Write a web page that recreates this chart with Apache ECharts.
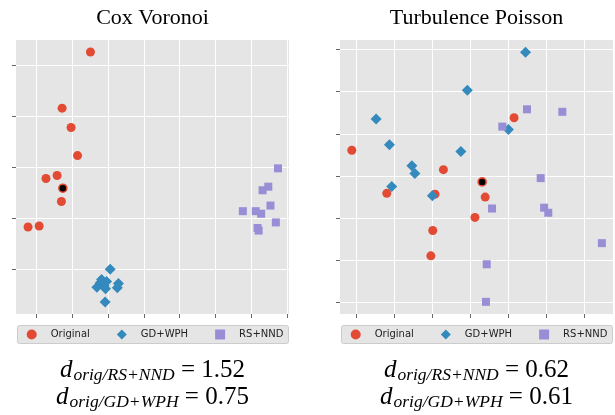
<!DOCTYPE html>
<html>
<head>
<meta charset="utf-8">
<script src="https://cdn.jsdelivr.net/npm/echarts@6/dist/echarts.min.js"></script>
<style>
  html, body { margin: 0; padding: 0; background: #fff; }
  #chart { width: 615px; height: 415px; }
</style>
</head>
<body>
<div id="chart"></div>
<script>
// Cox Voronoi panel
const coxOriginal = [[1.51, 4.26], [0.72, 3.16], [0.97, 2.78], [1.15, 2.23], [0.27, 1.78], [0.58, 1.84], [0.70, 1.33], [-0.23, 0.83], [0.08, 0.85]];
const coxOriginalRef = [[0.74, 1.59]];
const coxGdWph = [[2.06, 0.00], [1.82, -0.20], [1.96, -0.24], [1.89, -0.32], [1.69, -0.35], [1.93, -0.38], [2.29, -0.28], [2.26, -0.36], [1.92, -0.64], [1.78, -0.27]];
const coxRsNnd = [[6.74, 1.98], [6.47, 1.62], [6.31, 1.55], [6.53, 1.25], [5.76, 1.14], [6.12, 1.14], [6.27, 1.09], [6.68, 0.92], [6.17, 0.81], [6.20, 0.76]];
const coxXRange = [-0.566, 7.047];
const coxYRange = [-0.876, 4.496];
const coxXTicks = [0, 1, 2, 3, 4, 5, 6, 7];
const coxYTicks = [0, 1, 2, 3, 4];

// Turbulence Poisson panel
const turbOriginal = [[-0.11, 3.61], [2.30, 3.15], [4.16, 4.38], [0.81, 2.59], [2.08, 2.57], [3.13, 2.02], [2.02, 1.71], [1.97, 1.11], [3.40, 2.50]];
const turbOriginalRef = [[3.32, 2.86]];
const turbGdWph = [[0.53, 4.35], [0.88, 3.74], [1.47, 3.24], [1.55, 3.06], [2.76, 3.58], [2.93, 5.03], [4.46, 5.93], [4.01, 4.10], [0.94, 2.75], [2.01, 2.53]];
const turbRsNnd = [[4.50, 4.58], [5.43, 4.52], [3.85, 4.17], [4.86, 2.95], [3.58, 2.23], [4.95, 2.25], [5.06, 2.13], [6.47, 1.41], [3.44, 0.91], [3.42, 0.02]];
const turbXRange = [-0.421, 6.763];
const turbYRange = [-0.268, 6.221];
const turbXTicks = [0, 1, 2, 3, 4, 5, 6];
const turbYTicks = [0, 1, 2, 3, 4, 5, 6];

const titles = ['Cox Voronoi', 'Turbulence Poisson'];
const legendNames = ['Original', 'GD+WPH', 'RS+NND'];
const distances = [
  [['RS+NND', '1.52'], ['GD+WPH', '0.75']],
  [['RS+NND', '0.62'], ['GD+WPH', '0.61']]
];

const RED = '#E24A33', BLUE = '#348ABD', PURPLE = '#988ED5';
const serif = '"Liberation Serif", "Times New Roman", serif';

function makeAxis(gridIndex, range, ticks) {
  return {
    type: 'value',
    gridIndex: gridIndex,
    min: range[0],
    max: range[1],
    axisLine: { show: false, onZero: false },
    axisLabel: { show: false },
    axisTick: { show: true, length: 4, customValues: ticks, lineStyle: { color: '#666', width: 1 } },
    splitLine: { show: true, lineStyle: { color: '#fff', width: 1 } }
  };
}

function panelSeries(idx, orig, ref, gd, rs) {
  return [
    { name: 'Original', type: 'scatter', xAxisIndex: idx, yAxisIndex: idx, data: orig, symbol: 'circle', symbolSize: 9, itemStyle: { color: RED, opacity: 1 } },
    { name: 'GD+WPH', type: 'scatter', xAxisIndex: idx, yAxisIndex: idx, data: gd, symbol: 'diamond', symbolSize: 11, itemStyle: { color: BLUE, opacity: 1 } },
    { name: 'RS+NND', type: 'scatter', xAxisIndex: idx, yAxisIndex: idx, data: rs, symbol: 'rect', symbolSize: 8, itemStyle: { color: PURPLE, opacity: 1 } },
    { name: 'Original', type: 'scatter', xAxisIndex: idx, yAxisIndex: idx, data: ref, symbol: 'circle', symbolSize: 8, z: 5,
      itemStyle: { color: '#000', borderColor: RED, borderWidth: 1.6, opacity: 1 } }
  ];
}

const panelLeft = [16, 340];
const panelCenter = [152.5, 476.5];

function legendFor(i) {
  return {
    left: panelLeft[i] + 10.7,
    top: 329.5,
    padding: 0,
    itemWidth: 10,
    itemHeight: 10,
    itemGap: 27,
    selectedMode: false,
    data: legendNames.map((n, k) => ({ name: n, icon: ['circle', 'diamond', 'rect'][k] })),
    textStyle: { fontFamily: '"DejaVu Sans", sans-serif', fontSize: 10, color: '#222', padding: [0, 0, 0, 9] }
  };
}

function mathLine(i, j, top) {
  const d = distances[i][j];
  return {
    type: 'text',
    x: panelCenter[i],
    y: top,
    style: {
      text: '{d|d}{s|orig/' + d[0] + '}{n| = ' + d[1] + '}',
      align: 'center',
      verticalAlign: 'top',
      fill: '#000',
      rich: {
        d: { fontFamily: serif, fontStyle: 'italic', fontSize: 25, lineHeight: 26, verticalAlign: 'top' },
        s: { fontFamily: serif, fontStyle: 'italic', fontSize: 17.5, lineHeight: 18, padding: [12, 0, 0, 1], verticalAlign: 'bottom' },
        n: { fontFamily: serif, fontSize: 25, lineHeight: 26, verticalAlign: 'top' }
      }
    }
  };
}

const chart = echarts.init(document.getElementById('chart'));
chart.setOption({
  animation: false,
  backgroundColor: '#fff',
  title: titles.map((t, i) => ({
    text: t,
    left: panelCenter[i],
    textAlign: 'center',
    top: 7,
    padding: 0,
    textStyle: { fontFamily: serif, fontSize: 22, fontWeight: 'normal', color: '#000' }
  })),
  grid: [
    { left: 16, top: 40, width: 273, height: 274, show: true, backgroundColor: '#E5E5E5', borderWidth: 0 },
    { left: 340, top: 40, width: 273, height: 274, show: true, backgroundColor: '#E5E5E5', borderWidth: 0 }
  ],
  xAxis: [makeAxis(0, coxXRange, coxXTicks), makeAxis(1, turbXRange, turbXTicks)],
  yAxis: [makeAxis(0, coxYRange, coxYTicks), makeAxis(1, turbYRange, turbYTicks)],
  legend: [legendFor(0), legendFor(1)],
  graphic: [
    { type: 'rect', shape: { x: 17.5, y: 325.5, width: 271, height: 18, r: 2 }, style: { fill: '#E5E5E5', stroke: '#CCCCCC', lineWidth: 1 } },
    { type: 'rect', shape: { x: 341.5, y: 325.5, width: 271, height: 18, r: 2 }, style: { fill: '#E5E5E5', stroke: '#CCCCCC', lineWidth: 1 } },
    mathLine(0, 0, 358), mathLine(0, 1, 385),
    mathLine(1, 0, 358), mathLine(1, 1, 385)
  ],
  series: panelSeries(0, coxOriginal, coxOriginalRef, coxGdWph, coxRsNnd)
    .concat(panelSeries(1, turbOriginal, turbOriginalRef, turbGdWph, turbRsNnd))
});
</script>
</body>
</html>
